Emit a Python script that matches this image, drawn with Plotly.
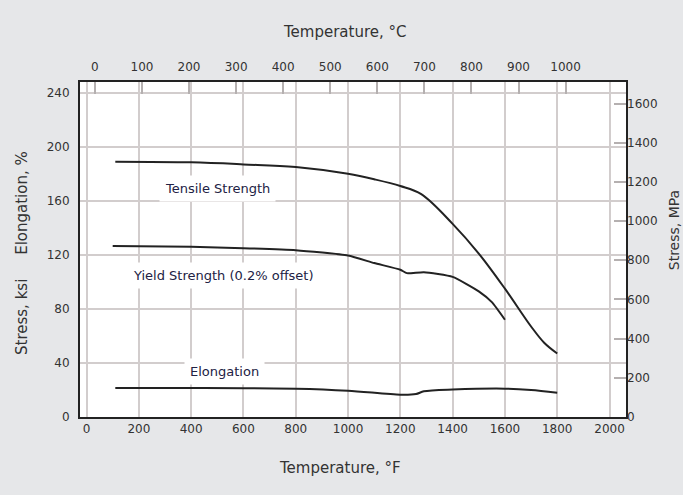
import plotly.graph_objects as go

# Data (temperature in °F, stress in ksi, elongation in %)
tensile_F = [110, 400, 600, 800, 1000, 1100, 1200, 1280, 1400, 1500, 1600, 1700, 1750, 1800]
tensile_ksi = [189, 188.5, 187, 185, 180, 176, 171, 165, 143, 121, 95, 67, 55, 47]

yield_F = [100, 400, 600, 800, 1000, 1100, 1200, 1225, 1290, 1400, 1500, 1550, 1600]
yield_ksi = [126.5, 126, 125, 123.5, 119.5, 114, 109, 106.5, 107.2, 103.7, 93, 85, 72]

elong_F = [110, 400, 800, 1000, 1200, 1260, 1290, 1400, 1600, 1700, 1800]
elong_pct = [21.5, 21.5, 21, 19.5, 16.5, 17, 19, 20.3, 21, 20, 18]

f_ticks = [0, 200, 400, 600, 800, 1000, 1200, 1400, 1600, 1800, 2000]
c_ticks = [0, 100, 200, 300, 400, 500, 600, 700, 800, 900, 1000]
ksi_ticks = [0, 40, 80, 120, 160, 200, 240]
mpa_ticks = [0, 200, 400, 600, 800, 1000, 1200, 1400, 1600]

x_range_F = [-25, 2063]
y_range_ksi = [0, 248]
KSI_TO_MPA = 6.895

font_family = "DejaVu Sans, sans-serif"
tick_font = dict(family=font_family, size=12, color="#333333")
title_font = dict(family=font_family, size=15, color="#333333")
label_font = dict(family=font_family, size=13, color="#222244")


def line_style(sm):
    return dict(color="#222222", width=2, shape="spline", smoothing=sm)


fig = go.Figure()
fig.add_trace(go.Scatter(x=tensile_F, y=tensile_ksi, mode="lines", line=line_style(1.0), showlegend=False))
fig.add_trace(go.Scatter(x=yield_F, y=yield_ksi, mode="lines", line=line_style(0.5), showlegend=False))
fig.add_trace(go.Scatter(x=elong_F, y=elong_pct, mode="lines", line=line_style(0.8), showlegend=False))
# dummy traces to activate secondary axes
fig.add_trace(go.Scatter(x=[None], y=[None], xaxis="x2", yaxis="y", showlegend=False))
fig.add_trace(go.Scatter(x=[None], y=[None], xaxis="x", yaxis="y2", showlegend=False))

grid_color = "#d2cdcd"
fig.update_layout(
    width=683, height=495,
    margin=dict(l=80, r=57, t=82, b=78),
    paper_bgcolor="#e6e7e9",
    plot_bgcolor="#ffffff",
    font=dict(family=font_family, color="#333333"),
    xaxis=dict(range=x_range_F, tickvals=f_ticks, showgrid=True, gridcolor=grid_color, gridwidth=1.5,
               showline=True, linecolor="#222222", linewidth=2, mirror=True, ticks="",
               tickfont=tick_font, zeroline=False),
    xaxis2=dict(range=[(x_range_F[0] - 32) / 1.8, (x_range_F[1] - 32) / 1.8], tickvals=c_ticks,
                overlaying="x", side="top", showgrid=False, showline=False, ticks="inside",
                ticklen=12, tickcolor="#b5b0b0", tickwidth=1.5, tickfont=tick_font, zeroline=False,
                ticklabelstandoff=8),
    yaxis=dict(range=y_range_ksi, tickvals=ksi_ticks, showgrid=True, gridcolor=grid_color, gridwidth=1.5,
               showline=True, linecolor="#222222", linewidth=2, mirror=True, ticks="",
               tickfont=tick_font, zeroline=False, ticklabelstandoff=6),
    yaxis2=dict(range=[y_range_ksi[0] * KSI_TO_MPA, y_range_ksi[1] * KSI_TO_MPA], tickvals=mpa_ticks,
                overlaying="y", side="right", showgrid=False, showline=False, ticks="inside",
                ticklen=12, tickcolor="#b5b0b0", tickwidth=1.5, tickfont=tick_font, zeroline=False,
                ticklabelstandoff=0),
    annotations=[
        dict(text="Tensile Strength", x=501, y=169, xref="x", yref="y", showarrow=False,
             bgcolor="white", borderpad=5, font=label_font),
        dict(text="Yield Strength (0.2% offset)", x=524, y=105, xref="x", yref="y", showarrow=False,
             bgcolor="white", borderpad=5, font=label_font),
        dict(text="Elongation", x=528, y=34, xref="x", yref="y", showarrow=False,
             bgcolor="white", borderpad=5, font=label_font),
        dict(text="Temperature, °C", x=0.485, y=1.149, xref="paper", yref="paper", showarrow=False,
             xanchor="center", yanchor="middle", font=title_font),
        dict(text="Temperature, °F", x=0.476, y=-0.152, xref="paper", yref="paper", showarrow=False,
             xanchor="center", yanchor="middle", font=title_font),
        dict(text="Stress, ksi\u00a0\u00a0\u00a0\u00a0\u00a0Elongation, %", x=-0.106, y=0.49,
             xref="paper", yref="paper", showarrow=False, textangle=-90,
             xanchor="center", yanchor="middle", font=title_font),
        dict(text="Stress, MPa", x=1.087, y=0.556, xref="paper", yref="paper", showarrow=False,
             textangle=-90, xanchor="center", yanchor="middle",
             font=dict(family=font_family, size=14, color="#333333")),
    ],
)

fig.write_html("out.html", config={"displayModeBar": False},
               post_script="document.body.style.margin='0';document.body.style.overflow='hidden';")
